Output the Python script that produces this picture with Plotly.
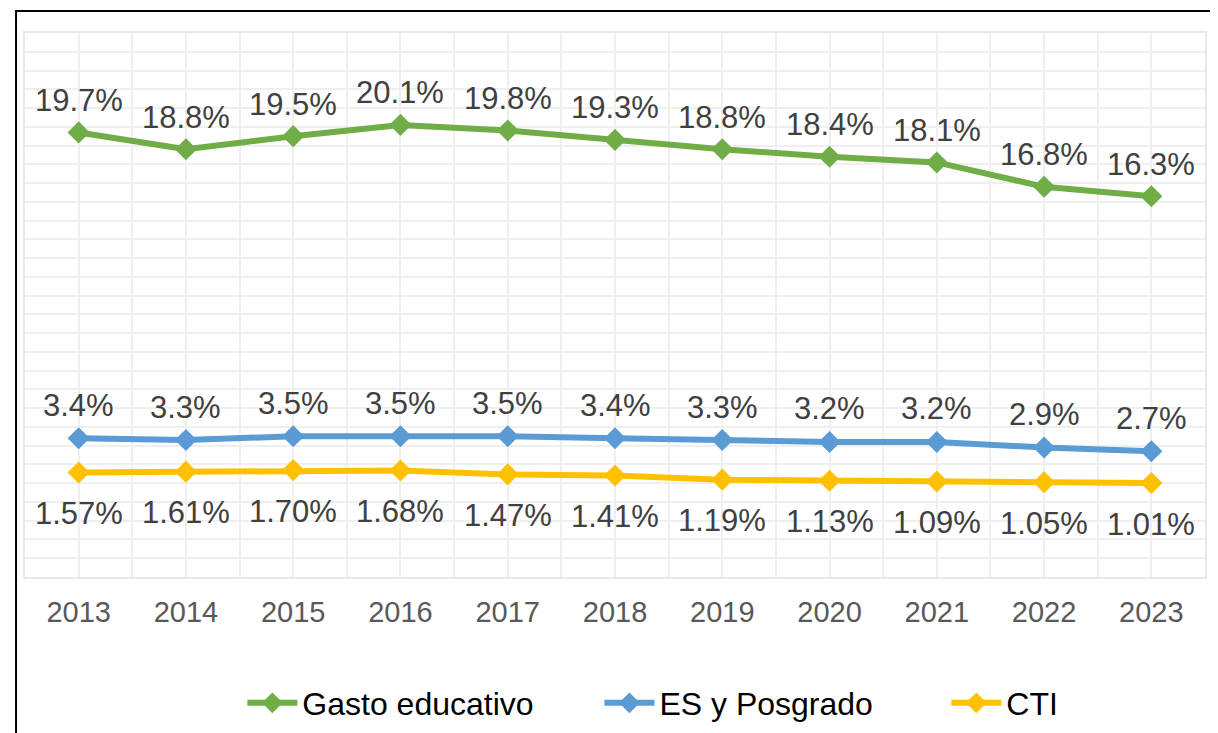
import plotly.graph_objects as go

years = list(range(2013, 2024))
gasto_educativo = [19.7, 18.8, 19.5, 20.1, 19.8, 19.3, 18.8, 18.4, 18.1, 16.8, 16.3]
es_posgrado = [3.4, 3.3, 3.5, 3.5, 3.5, 3.4, 3.3, 3.2, 3.2, 2.9, 2.7]
cti = [1.57, 1.61, 1.70, 1.68, 1.47, 1.41, 1.19, 1.13, 1.09, 1.05, 1.01]

FONT = 'Liberation Sans, Arial, sans-serif'

# name, values, colour, label offset (px), label format, legend id, legend x
series = [
    ('Gasto educativo', gasto_educativo, '#70AD47', 32, '{:.1f}%', 'legend', 0.1842),
    ('ES y Posgrado', es_posgrado, '#5B9BD5', 33, '{:.1f}%', 'legend2', 0.4868),
    ('CTI', cti, '#FFC000', -41, '{:.2f}%', 'legend3', 0.7808),
]

fig = go.Figure()
legends = {}
for name, values, color, shift, fmt, leg, leg_x in series:
    fig.add_trace(go.Scatter(
        x=years, y=values, name=name,
        mode='lines+markers',
        line=dict(color=color, width=6),
        marker=dict(symbol='diamond', size=17, color=color),
        cliponaxis=False,
        hoverinfo='skip',
        legend=leg,
    ))
    for x, v in zip(years, values):
        fig.add_annotation(
            x=x, y=v, text=fmt.format(v), showarrow=False,
            yshift=shift, yanchor='middle',
            font=dict(family=FONT, size=31, color='#404040'),
        )
    # one legend per series so each entry sits where Excel put it
    legends[leg] = dict(
        orientation='h', x=leg_x, xanchor='left', y=-0.2316, yanchor='middle',
        font=dict(family=FONT, size=32, color='black'),
        itemwidth=50, bgcolor='rgba(0,0,0,0)',
    )

fig.update_xaxes(
    range=[2012.5, 2023.5],
    tickvals=years,
    ticktext=[str(y) for y in years],
    tickfont=dict(family=FONT, size=29, color='#595959'),
    ticklabelstandoff=8,
    showgrid=True, gridcolor='#EFEFEF', gridwidth=2,
    minor=dict(dtick=0.5, tick0=2012.5, showgrid=True, gridcolor='#EFEFEF', gridwidth=2),
    showline=True, linecolor='#E8E8E8', linewidth=2, mirror=True,
    zeroline=False,
)
fig.update_yaxes(
    range=[-4, 25],
    dtick=1, tick0=0,
    showticklabels=False,
    showgrid=True, gridcolor='#EFEFEF', gridwidth=2,
    showline=True, linecolor='#E8E8E8', linewidth=2, mirror=True,
    zeroline=False,
)

# outer frame of the original picture
fig.add_shape(
    type='rect', xref='paper', yref='paper',
    x0=-0.0076, x1=1.05, y0=-0.45, y1=1.0404,
    line=dict(color='black', width=2),
)

# page body adds 8px, so the figure is 8px smaller than the window
fig.update_layout(
    width=1210, height=725,
    margin=dict(l=17, r=13, t=25, b=156, autoexpand=False),
    plot_bgcolor='white', paper_bgcolor='white',
    showlegend=True,
    **legends,
)

fig.write_html('out.html')
